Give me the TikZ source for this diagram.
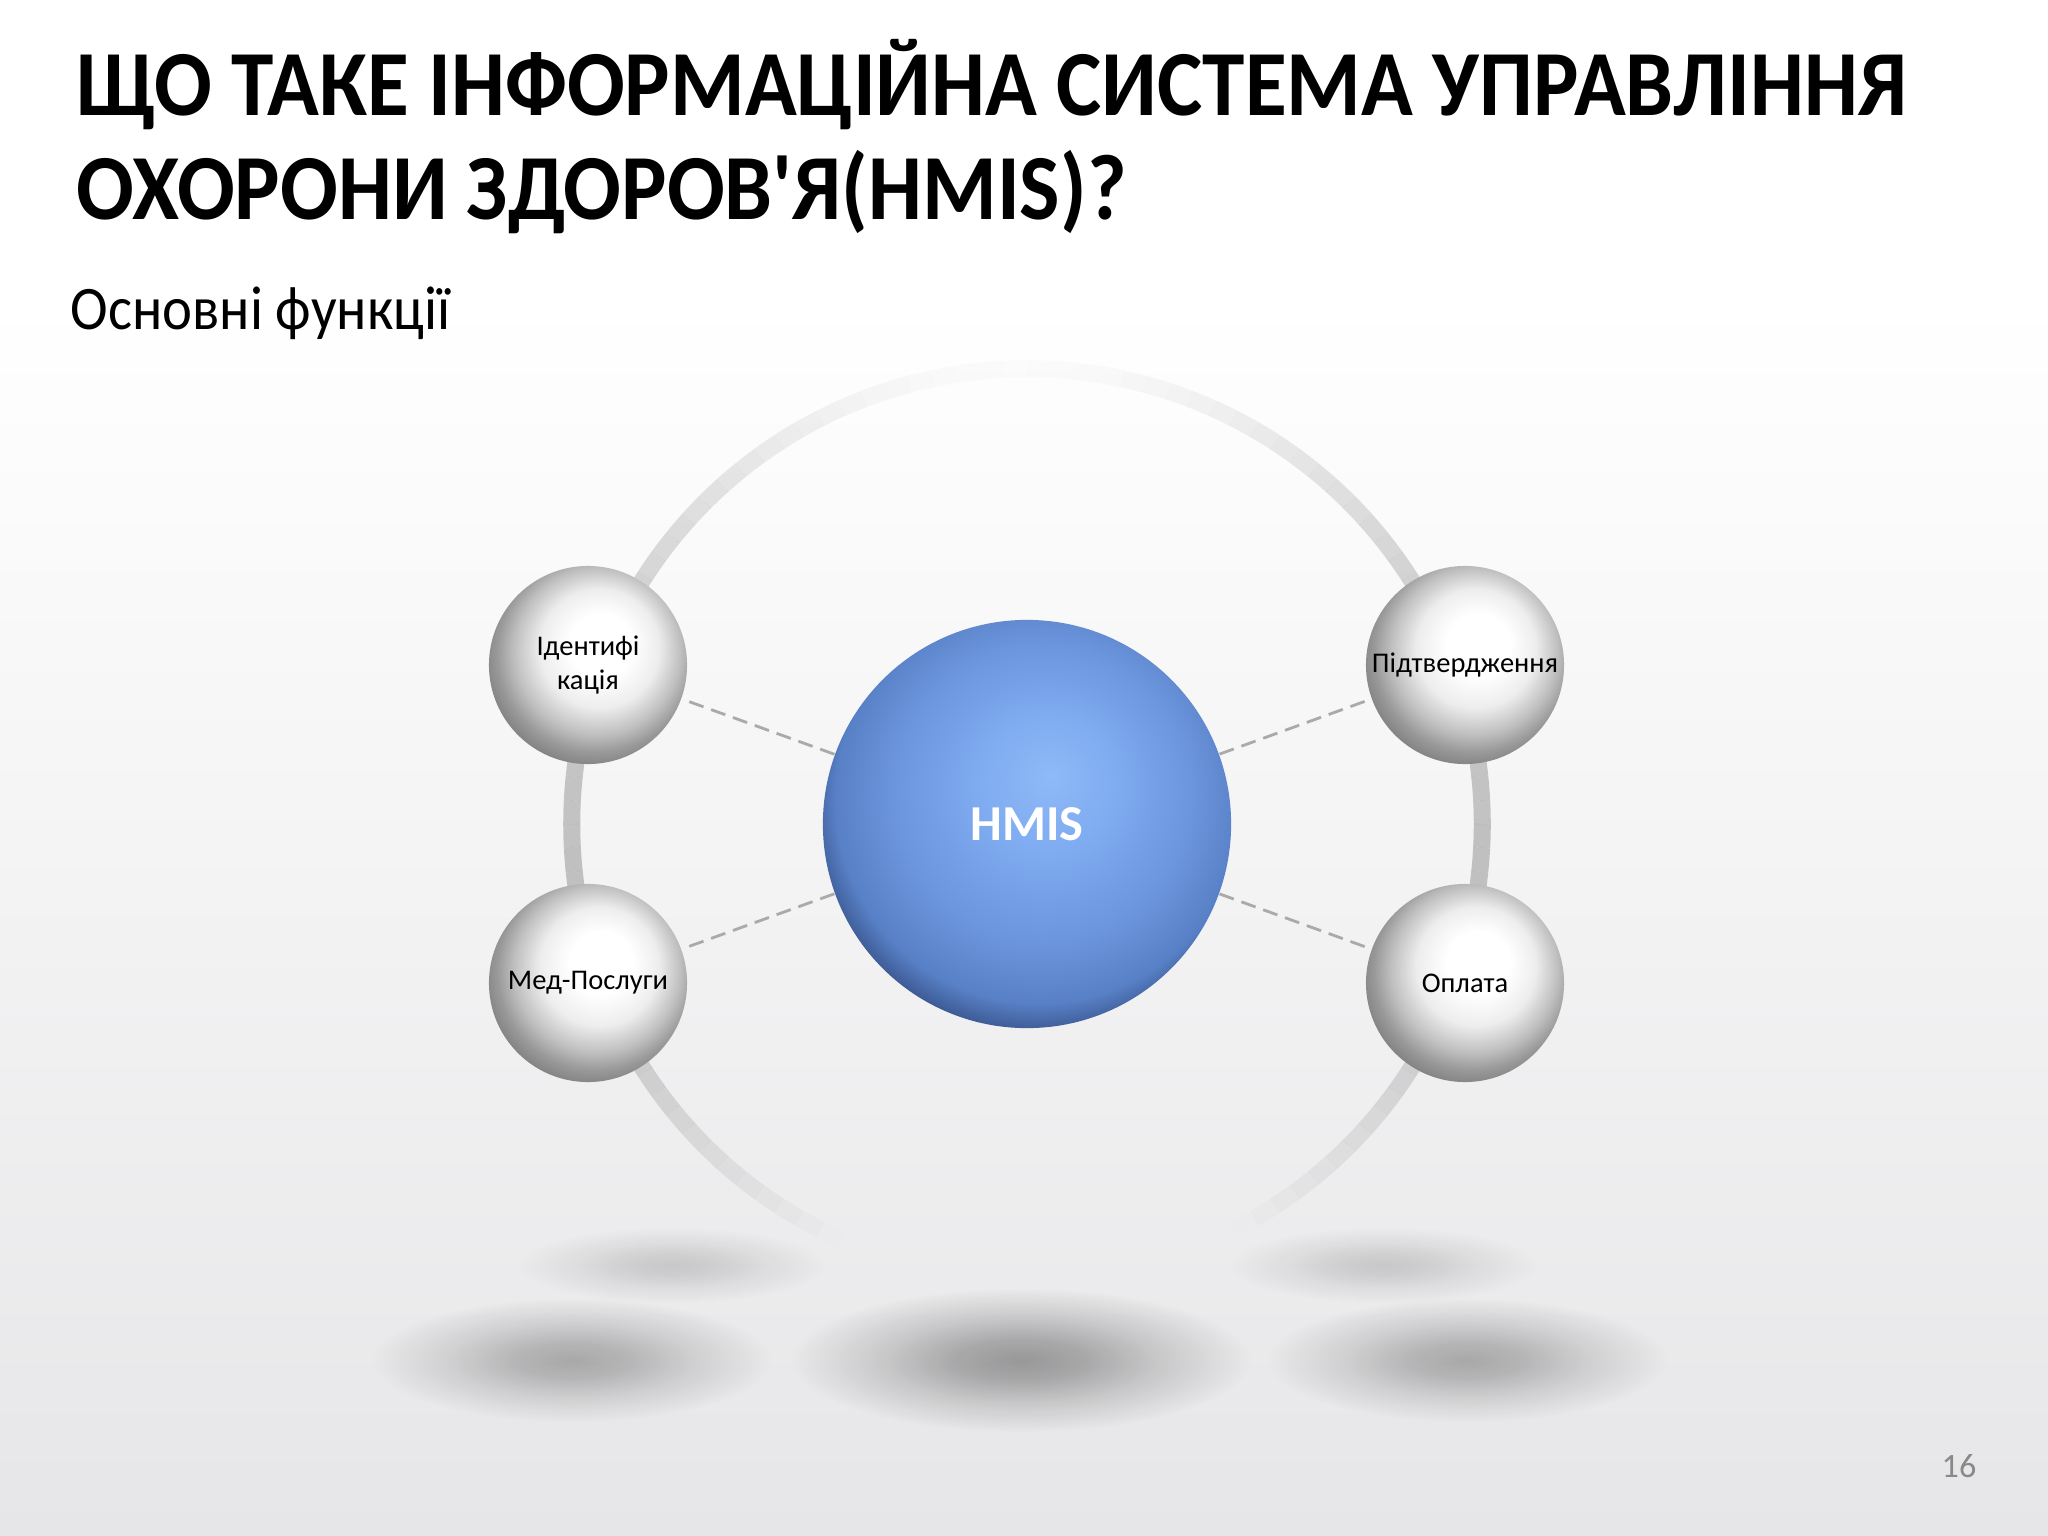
\documentclass[tikz,border=0pt]{standalone}
\usepackage{fontspec}
\newfontfamily\slidefont{Carlito}
\usetikzlibrary{positioning,fadings}

\definecolor{bgbottom}{RGB}{230,230,232}
\definecolor{dashgray}{RGB}{170,170,170}
\definecolor{numgray}{RGB}{137,137,137}
\definecolor{blueA}{RGB}{142,186,248}
\definecolor{blueB}{RGB}{126,170,240}
\definecolor{blueC}{RGB}{108,150,222}
\definecolor{blueD}{RGB}{88,128,198}
\definecolor{blueE}{RGB}{52,78,132}
\definecolor{blueF}{RGB}{24,35,62}

% sphere shadings
\pgfdeclareradialshading{silverball}{\pgfpoint{4bp}{6bp}}{%
  color(0bp)=(white); color(8bp)=(white); color(15bp)=(black!7);
  color(21bp)=(black!25); color(25bp)=(black!40); color(31bp)=(black!56);
  color(50bp)=(black!56)}
\pgfdeclareradialshading{blueball}{\pgfpoint{3bp}{6bp}}{%
  color(0bp)=(blueA); color(9bp)=(blueB); color(18bp)=(blueC);
  color(25bp)=(blueD); color(29bp)=(blueE); color(35bp)=(blueF);
  color(50bp)=(blueF)}
% soft floor shadows
\pgfdeclareradialshading{shadowmask}{\pgfpointorigin}{%
  color(0bp)=(white); color(7bp)=(black!20); color(15bp)=(black!60);
  color(25bp)=(black); color(50bp)=(black)}
\pgfdeclarefading{softshadow}{\pgfuseshading{shadowmask}}

\begin{document}
\begin{tikzpicture}[x=0.01cm, y=-0.01cm, font=\slidefont,
  smallball/.style={circle, minimum size=1.98cm, inner sep=0pt, shade, shading=silverball,
    align=center, font=\slidefont\fontsize{8.1}{9.7}\selectfont},
  bigball/.style={circle, minimum size=4.08cm, inner sep=0pt, shade, shading=blueball,
    text=white, font=\slidefont\bfseries\fontsize{14.3}{16}\selectfont},
  link/.style={draw=dashgray, line width=0.8pt, dash pattern=on 4.3pt off 2.3pt},
  titletext/.style={anchor=base west, inner sep=0pt, font=\slidefont\bfseries\fontsize{26.5}{30}\selectfont},
  floorshadow/.style={fill=black, path fading=softshadow}]
\useasboundingbox (0,0) rectangle (2048,1536);
\fill[white] (0,0) rectangle (2048,1536);
\shade[top color=white, bottom color=bgbottom] (0,300) rectangle (2048,1536);

% shadows
\fill[floorshadow, opacity=0.15] (672,1265) ellipse [x radius=1.55cm, y radius=0.38cm];
\fill[floorshadow, opacity=0.15] (1383,1265) ellipse [x radius=1.55cm, y radius=0.38cm];
\fill[floorshadow, opacity=0.28] (572,1360) ellipse [x radius=2.0cm, y radius=0.62cm];
\fill[floorshadow, opacity=0.28] (1467,1360) ellipse [x radius=2.0cm, y radius=0.62cm];
\fill[floorshadow, opacity=0.35] (1021,1360) ellipse [x radius=2.3cm, y radius=0.72cm];

% ring behind the balls, fading out at top and bottom
\coordinate (ctr) at (1027,824);
\begin{scope}[shift={(ctr)}]
\foreach \a in {0,3,...,357}{
  \pgfmathsetmacro{\rp}{sin(\a)>=0 ? 0.025+0.45*cos(\a)*cos(\a) : max(0,0.62*cos(\a)*cos(\a)-0.12)}
  \ifdim\rp pt>0.005pt
    \draw[line width=0.17cm, black!45, draw opacity=\rp] (\a:4.55cm) arc[start angle=\a, end angle=\a+3, radius=4.55cm];
  \fi
}
\end{scope}

% title
\node[titletext] (title1) at (76,115) {\scalebox{0.917}[1]{ЩО ТАКЕ ІНФОРМАЦІЙНА СИСТЕМА УПРАВЛІННЯ}};
\node[titletext] (title2) at (76,219) {\scalebox{0.917}[1]{ОХОРОНИ ЗДОРОВ'Я(HMIS)?}};
\node[anchor=base west, inner sep=0pt, font=\slidefont\fontsize{17.6}{21}\selectfont] (sub) at (70,329) {\scalebox{0.917}[1]{Основні функції}};

% balls
\node[bigball] (hmis) at (ctr) {HMIS};
\node[smallball] (ident) at (588,665) {Ідентифі\\кація};
\node[smallball] (med) at (588,983) {Мед-Послуги};
\node[smallball] (confirm) at (1465,665) {Підтвердження};
\node[smallball] (pay) at (1465,983) {Оплата};

\draw[link] (hmis) -- (ident);
\draw[link] (hmis) -- (med);
\draw[link] (hmis) -- (confirm);
\draw[link] (hmis) -- (pay);

\node[text=numgray, font=\slidefont\fontsize{9.7}{12}\selectfont] (pnum) at (1959,1466) {16};
\end{tikzpicture}
\end{document}
